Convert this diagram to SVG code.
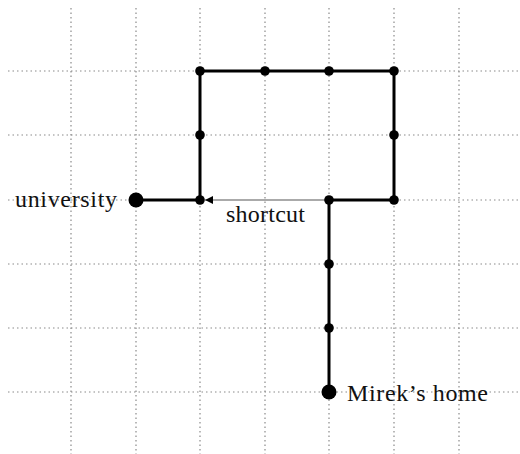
<svg xmlns="http://www.w3.org/2000/svg" width="520" height="454" viewBox="0 0 520 454">
<style>
.grid line{stroke:#8a8a8a;stroke-width:1.2;stroke-dasharray:1.5 3}
.route{fill:none;stroke:#000;stroke-width:3}
.dot{fill:#000}
.lbl{font-family:"Liberation Serif","Times New Roman",serif;font-size:24px;fill:#111}
</style>
<defs>
<marker id="ah" markerWidth="10" markerHeight="10" refX="8" refY="4" orient="auto" markerUnits="userSpaceOnUse">
<path d="M0,0 L8,4 L0,8 Z" fill="#000"/>
</marker>
</defs>
<rect width="520" height="454" fill="#fff"/>
<g class="grid">
<line x1="71" y1="8" x2="71" y2="454"/>
<line x1="136" y1="8" x2="136" y2="454"/>
<line x1="200" y1="8" x2="200" y2="454"/>
<line x1="265" y1="8" x2="265" y2="454"/>
<line x1="329" y1="8" x2="329" y2="454"/>
<line x1="394" y1="8" x2="394" y2="454"/>
<line x1="459" y1="8" x2="459" y2="454"/>
<line x1="8" y1="71" x2="520" y2="71"/>
<line x1="8" y1="135" x2="520" y2="135"/>
<line x1="8" y1="200" x2="520" y2="200"/>
<line x1="8" y1="264" x2="520" y2="264"/>
<line x1="8" y1="328" x2="520" y2="328"/>
<line x1="8" y1="392" x2="520" y2="392"/>
</g>
<g id="connectors">
<path class="route" d="M136,200 H200 V71 H394 V200 H329 V392"/>
<line x1="329" y1="200" x2="205" y2="200" stroke="#aaa" stroke-width="2" marker-end="url(#ah)"/>
</g>
<g id="university"><circle class="dot" cx="136" cy="200" r="7.5"/><text class="lbl" x="15" y="207" textLength="102" lengthAdjust="spacing">university</text></g>
<g id="home"><circle class="dot" cx="329" cy="392" r="7.5"/><text class="lbl" x="347" y="401" textLength="141" lengthAdjust="spacing">Mirek’s home</text></g>
<g id="shortcut-label"><text class="lbl" x="226" y="222" textLength="79" lengthAdjust="spacing">shortcut</text></g>
<g id="n1"><circle class="dot" cx="200" cy="71" r="4.8"/></g>
<g id="n2"><circle class="dot" cx="265" cy="71" r="4.8"/></g>
<g id="n3"><circle class="dot" cx="329" cy="71" r="4.8"/></g>
<g id="n4"><circle class="dot" cx="394" cy="71" r="4.8"/></g>
<g id="n5"><circle class="dot" cx="200" cy="135" r="4.8"/></g>
<g id="n6"><circle class="dot" cx="394" cy="135" r="4.8"/></g>
<g id="n7"><circle class="dot" cx="200" cy="200" r="4.8"/></g>
<g id="n8"><circle class="dot" cx="329" cy="200" r="4.8"/></g>
<g id="n9"><circle class="dot" cx="394" cy="200" r="4.8"/></g>
<g id="n10"><circle class="dot" cx="329" cy="264" r="4.8"/></g>
<g id="n11"><circle class="dot" cx="329" cy="328" r="4.8"/></g>
</svg>
